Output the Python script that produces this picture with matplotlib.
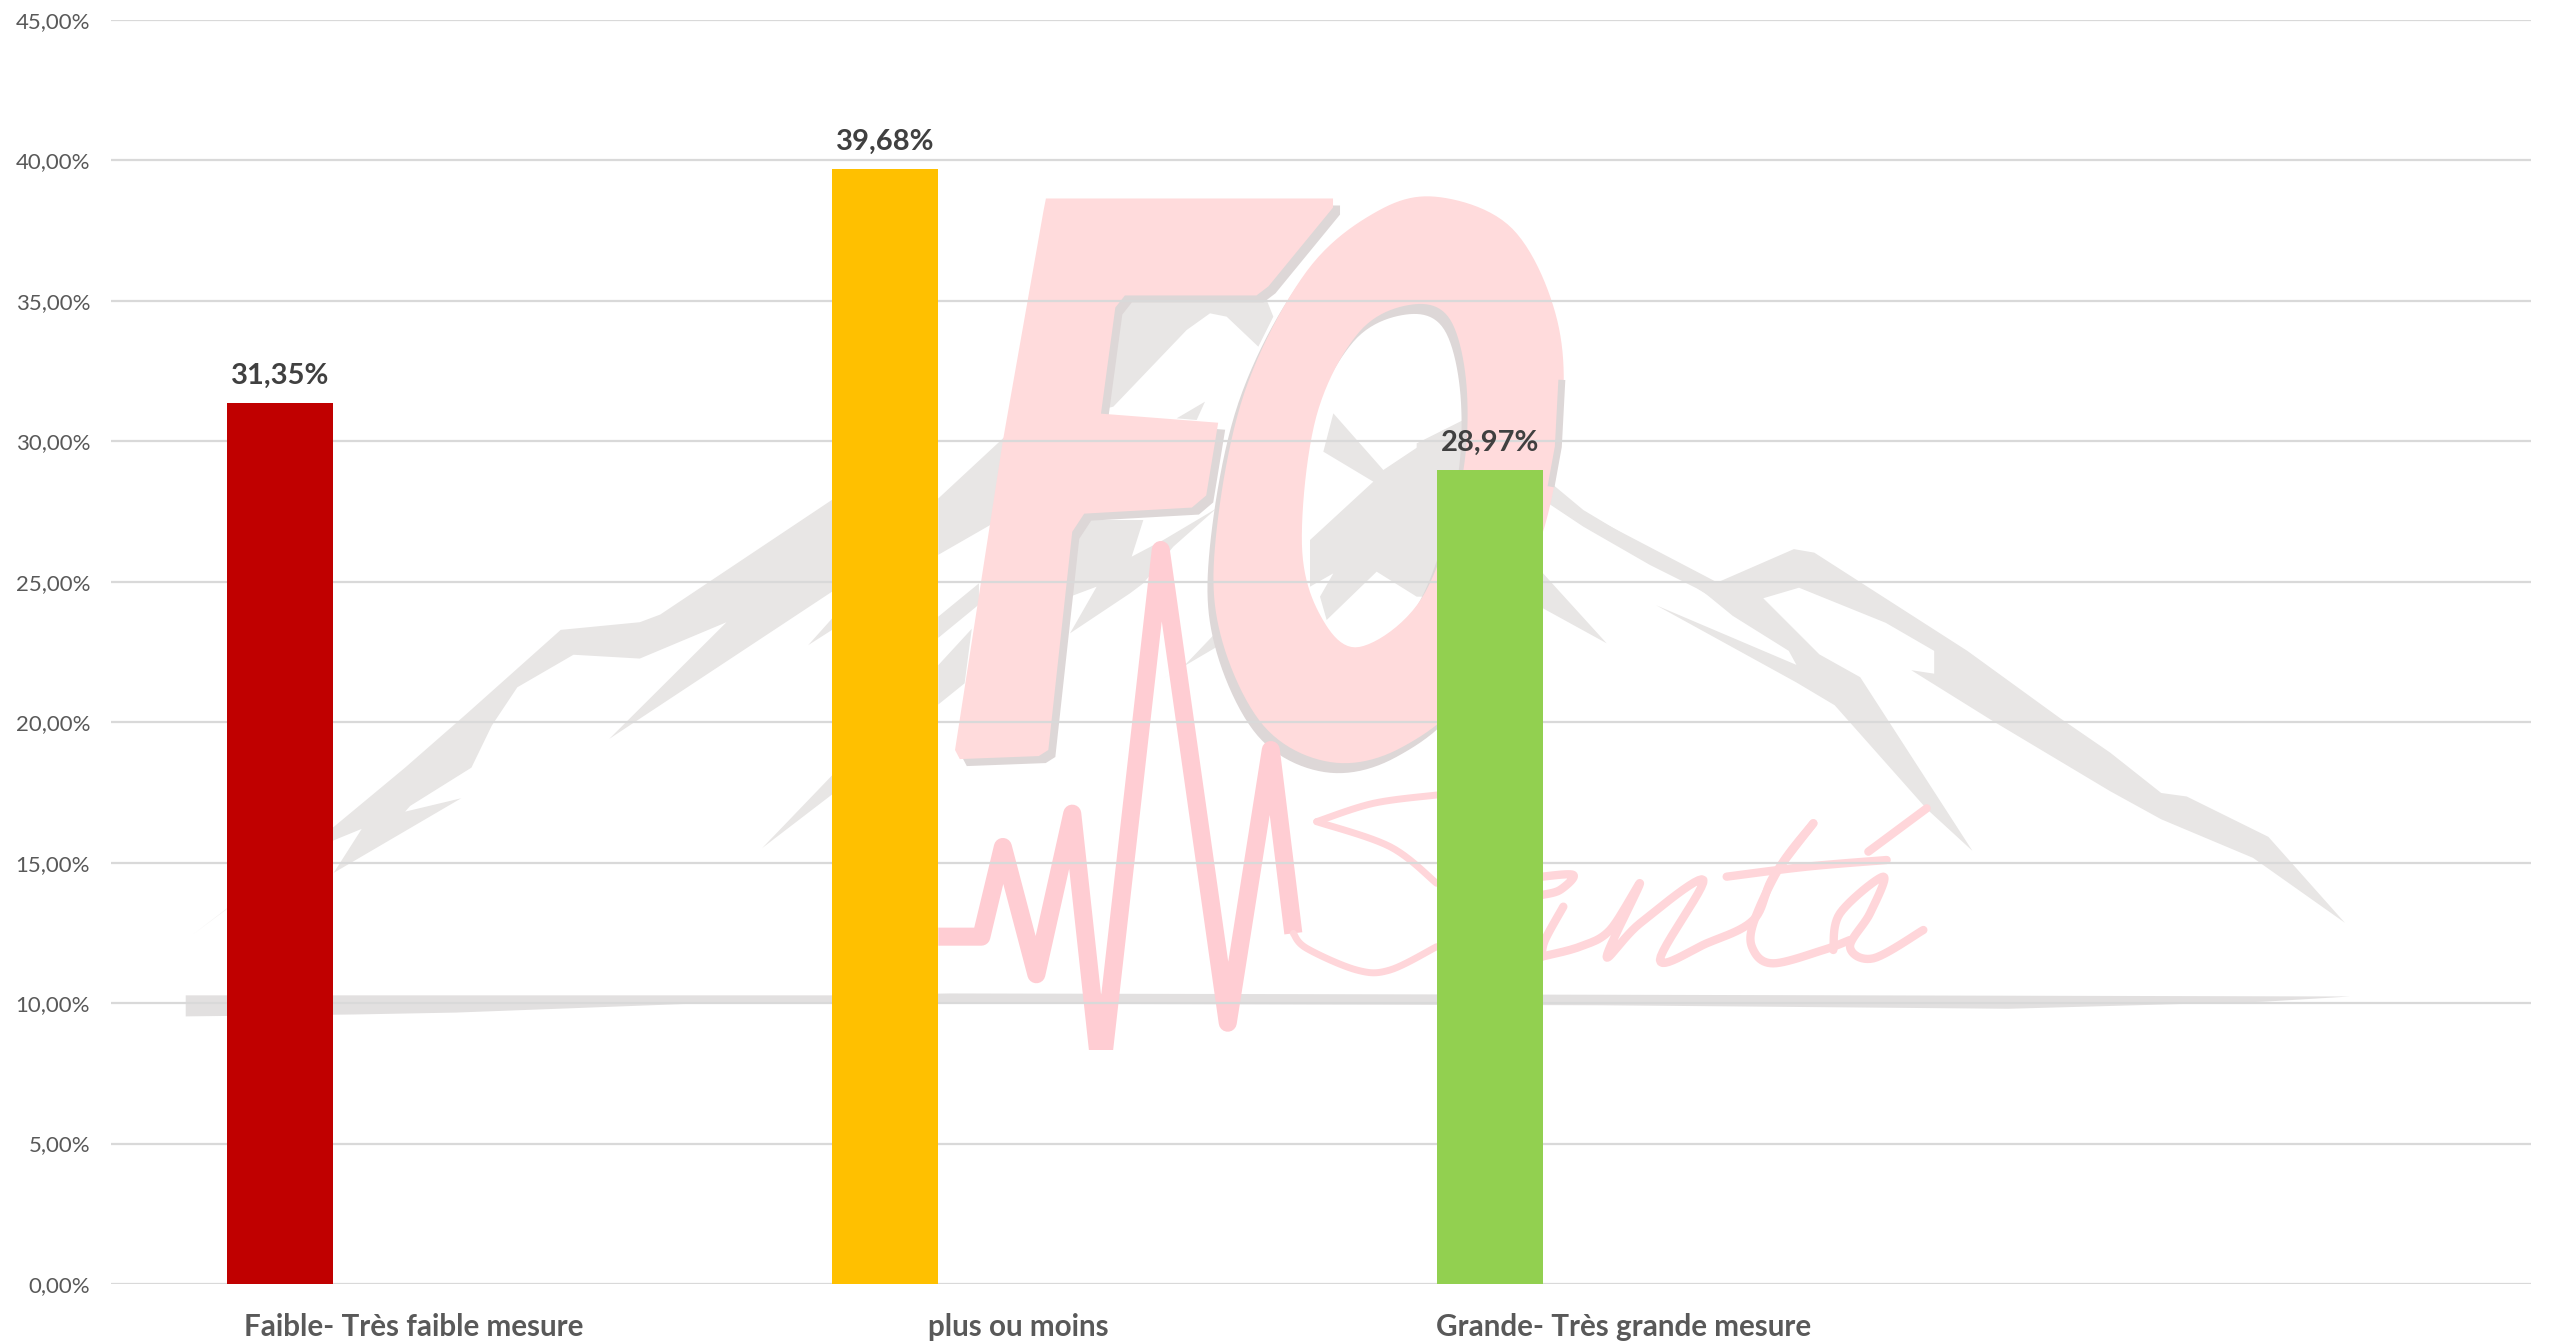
import numpy as np
import matplotlib.pyplot as plt
from matplotlib.patches import PathPatch, Rectangle
from matplotlib.path import Path

categories = ["Faible- Très faible mesure", "plus ou moins", "Grande- Très grande mesure", ""]
values = [31.35, 39.68, 28.97]
value_labels = ["31,35%", "39,68%", "28,97%"]
bar_colors = ["#C00000", "#FFC000", "#92D050"]
y_ticks = [0, 5, 10, 15, 20, 25, 30, 35, 40, 45]
y_labels = ["0,00%", "5,00%", "10,00%", "15,00%", "20,00%", "25,00%", "30,00%", "35,00%", "40,00%", "45,00%"]

W, H = 2552, 1343
GRAY = "#E8E6E5"
SHADOW = "#DDD7D7"
PINK = "#FFDBDC"
BEAT = "#FFCDD3"
SCRIPT = "#FFD6DA"

plt.rcParams["font.family"] = ["Lato", "DejaVu Sans"]


def crop(pts, x0, y0, sx, sy):
    """Crop coordinates to figure pixels."""
    pts = np.array(pts, dtype=float)
    return np.c_[x0 + pts[:, 0] / sx, y0 + pts[:, 1] / sy]


def mid(pts):
    return crop(pts, 900, 150, 2.09, 1.65)


def left(pts):
    return crop(pts, 150, 450, 1.96, 2.613)


def right(pts):
    return crop(pts, 1600, 500, 1.96, 2.85)


def smooth(pts, closed=False, n=12):
    """Catmull-Rom curve through the outline points."""
    pts = np.array(pts, dtype=float)
    if closed:
        p = np.vstack([pts[-1], pts, pts[:2]])
    else:
        p = np.vstack([pts[0], pts, pts[-1]])
    out = []
    t = np.linspace(0, 1, n, endpoint=False)[:, None]
    for i in range(1, len(p) - 2):
        a, b, c, d = p[i - 1], p[i], p[i + 1], p[i + 2]
        out.append(
            0.5
            * (
                2 * b
                + (c - a) * t
                + (2 * a - 5 * b + 4 * c - d) * t**2
                + (3 * b - a - 3 * c + d) * t**3
            )
        )
    return np.vstack(out + [pts[-1:]]) if not closed else np.vstack(out)


fig = plt.figure(figsize=(W / 100, H / 100), dpi=100, facecolor="white")

# Watermark, in pixel coordinates, under the chart
logo = fig.add_axes([0, 0, 1, 1], zorder=0)
logo.set_xlim(0, W)
logo.set_ylim(H, 0)
logo.axis("off")

# Mountains
ridge_left = left([
    (85, 1265), (360, 985), (500, 830), (620, 690), (805, 470), (960, 450), (1000, 430),
    (1337, 130), (1400, 80),
])
ridge_left_low = left([
    (1400, 260), (1337, 370), (900, 755), (1130, 450), (960, 545), (830, 535), (720, 620),
    (670, 720), (630, 830), (510, 930), (500, 945), (610, 910), (360, 1105), (415, 990),
    (360, 1020), (150, 1200),
])
logo.fill(*np.vstack([ridge_left, ridge_left_low]).T, color=GRAY, lw=0)

for shape in [
    [(80, 575), (230, 465), (230, 600), (80, 668)],
    [(80, 770), (165, 715), (165, 750), (80, 805)],
    [(80, 850), (150, 790), (135, 880), (80, 915)],
]:
    logo.fill(*mid(shape).T, color=GRAY, lw=0)

for shape in [
    [(1290, 510), (1337, 440), (1337, 470)],
    [(1200, 1040), (1337, 850), (1337, 900)],
]:
    logo.fill(*left(shape).T, color=GRAY, lw=0)

# Parts seen through the F and the O
through_fo = [
    [(150, 60), (650, 60), (670, 110), (625, 200), (530, 110), (480, 100), (410, 150), (190, 380), (150, 390)],
    [(380, 415), (465, 365), (440, 420)],
    [(60, 720), (280, 720), (245, 830), (340, 780), (500, 685), (370, 800), (280, 910), (240, 940),
     (60, 1060), (140, 920), (60, 950)],
    [(400, 1160), (510, 1045), (510, 1095), (340, 1195)],
    [(850, 400), (1000, 570), (1180, 450), (1250, 430), (1250, 950), (1100, 950), (980, 875), (830, 1020),
     (810, 950), (850, 880), (780, 920), (780, 780), (970, 605), (820, 515)],
]
for shape in through_fo:
    logo.fill(*crop(shape, 1050, 280, 3, 3).T, color=GRAY, lw=0)

for shape in [
    [(500, 190), (640, 120), (700, 125), (700, 400), (500, 400)],
    [(880, 290), (1000, 390), (1200, 510), (1400, 610), (1500, 720), (1340, 625), (1200, 555), (1000, 440), (880, 360)],
    [(870, 570), (1070, 790), (870, 680)],
]:
    logo.fill(*crop(shape, 1250, 380, 3, 3).T, color=GRAY, lw=0)

ridge_right = right([
    (0, 60), (230, 235), (380, 140), (420, 150), (720, 430), (900, 620), (1000, 720),
    (1100, 835), (1150, 845), (1310, 960), (1460, 1205), (1280, 1020), (1100, 910),
    (1000, 830), (770, 630), (610, 485), (655, 495), (655, 430), (560, 350), (390, 250),
    (320, 280), (430, 440), (510, 505), (570, 640), (730, 1000), (640, 880), (460, 585),
    (385, 520), (110, 300), (385, 470), (370, 430), (260, 330), (180, 235), (0, 90),
])
logo.fill(*ridge_right.T, color=GRAY, lw=0)

# Horizon stroke
horizon = left([(70, 1425), (1337, 1425), (1568, 1420)])
horizon = np.vstack([
    horizon,
    right([(0, 1410), (1470, 1415), (1300, 1430), (800, 1450), (0, 1440)]),
    left([(1100, 1445), (600, 1470), (400, 1475), (70, 1480)]),
])
logo.fill(*horizon.T, color="#E2E0E0", lw=0)

# FO letters, a shifted copy gives the grey shadow
f_outline = mid([
    (305, 80), (905, 80), (905, 95), (770, 225), (745, 240), (470, 240), (450, 260),
    (420, 435), (665, 450), (640, 570), (610, 590), (385, 600), (360, 630), (310, 990),
    (290, 1000), (125, 1005), (115, 990), (215, 480), (300, 100),
])
o_outer = smooth(mid([
    (1130, 78), (1280, 130), (1370, 270), (1385, 430), (1340, 640), (1200, 880), (1050, 985),
    (900, 1010), (760, 950), (670, 800), (660, 640), (720, 400), (850, 200), (1000, 100),
]), closed=True)
o_inner = smooth(mid([
    (1070, 255), (1150, 280), (1185, 400), (1170, 560), (1090, 740), (960, 820), (880, 770),
    (840, 650), (870, 440), (960, 300),
]), closed=True)


def ring_path(dx, dy):
    verts = np.vstack([o_outer, o_outer[0], o_inner[::-1], o_inner[-1]]) + [dx, dy]
    codes = (
        [Path.MOVETO] + [Path.LINETO] * len(o_outer)
        + [Path.MOVETO] + [Path.LINETO] * len(o_inner)
    )
    return Path(verts, codes)


logo.fill(*(f_outline + [7, 7]).T, color=SHADOW, lw=0)
logo.add_patch(PathPatch(ring_path(-6, 10), fc=SHADOW, lw=0))
logo.fill(*f_outline.T, color=PINK, lw=0)
logo.add_patch(PathPatch(ring_path(0, 0), fc=PINK, lw=0))
logo.plot(*crop([(935, 10), (925, 200), (905, 310)], 1250, 380, 3, 3).T, color=SHADOW, lw=5)

# Heartbeat trace, cut flat at the bottom
beat = mid([
    (80, 1298), (170, 1298), (215, 1150), (285, 1360), (360, 1095), (420, 1530), (545, 660),
    (685, 1440), (775, 990),
])
beat = np.vstack([beat, crop([(160, 580)], 1240, 740, 3, 3)])
clip = Rectangle((0, 0), W, 1050, transform=logo.transData)
line, = logo.plot(*beat.T, color=BEAT, lw=13, solid_joinstyle="round", solid_capstyle="butt")
line.set_clip_path(clip)

# Sante script, the strokes near the trace and then those right of the green bar
script_near = [
    [(160, 580), (200, 625), (350, 690), (450, 690), (590, 620)],
    [(230, 245), (400, 190), (590, 165)],
    [(230, 245), (450, 320), (590, 430)],
]
for stroke in script_near:
    logo.plot(*smooth(crop(stroke, 1240, 740, 3, 3)).T, color=SCRIPT, lw=5, solid_capstyle="round")

script_far = [
    [(5, 290), (100, 285), (60, 330), (5, 345)],
    [(70, 380), (15, 480), (5, 530)],
    [(5, 530), (120, 500), (210, 450), (300, 310), (200, 530), (300, 430), (490, 300), (360, 540),
     (500, 490), (640, 420), (700, 290), (820, 130)],
    [(820, 130), (720, 260), (640, 430), (640, 510), (700, 550), (850, 510), (930, 480)],
    [(880, 510), (900, 400), (1030, 290), (990, 400), (930, 500), (1000, 535), (1150, 450)],
    [(560, 290), (800, 260), (1040, 240)],
    [(985, 215), (1160, 85)],
]
for stroke in script_far:
    logo.plot(*smooth(crop(stroke, 1540, 780, 3, 3)).T, color=SCRIPT, lw=6, solid_capstyle="round")

# Chart
ax = fig.add_axes([111 / W, 1 - 1284 / H, 2420 / W, 1264 / H], zorder=1)
ax.patch.set_visible(False)

x = np.arange(len(categories))
bars = ax.bar(x[:3] - 0.22, values, width=0.175, color=bar_colors, zorder=3)

for bar, text in zip(bars, value_labels):
    ax.annotate(
        text,
        (bar.get_x() + bar.get_width() / 2, bar.get_height()),
        xytext=(0, 10.5),
        textcoords="offset points",
        ha="center",
        va="bottom",
        fontsize=21,
        fontweight="bold",
        color="#404040",
        zorder=4,
    )

ax.set_xlim(-0.5, 3.5)
ax.set_ylim(0, 45)
ax.set_yticks(y_ticks, y_labels)
ax.set_xticks(x, categories)
ax.grid(axis="y", color="#D9D9D9", lw=1.6, zorder=1)
ax.set_axisbelow(True)
ax.tick_params(axis="y", length=0, pad=15, labelsize=16, labelcolor="#595959")
ax.tick_params(axis="x", length=0, pad=21, labelsize=21.3, labelcolor="#595959")
for label in ax.get_xticklabels():
    label.set_fontweight("bold")
for spine in ax.spines.values():
    spine.set_visible(False)

fig.savefig("out.png", dpi=100)
